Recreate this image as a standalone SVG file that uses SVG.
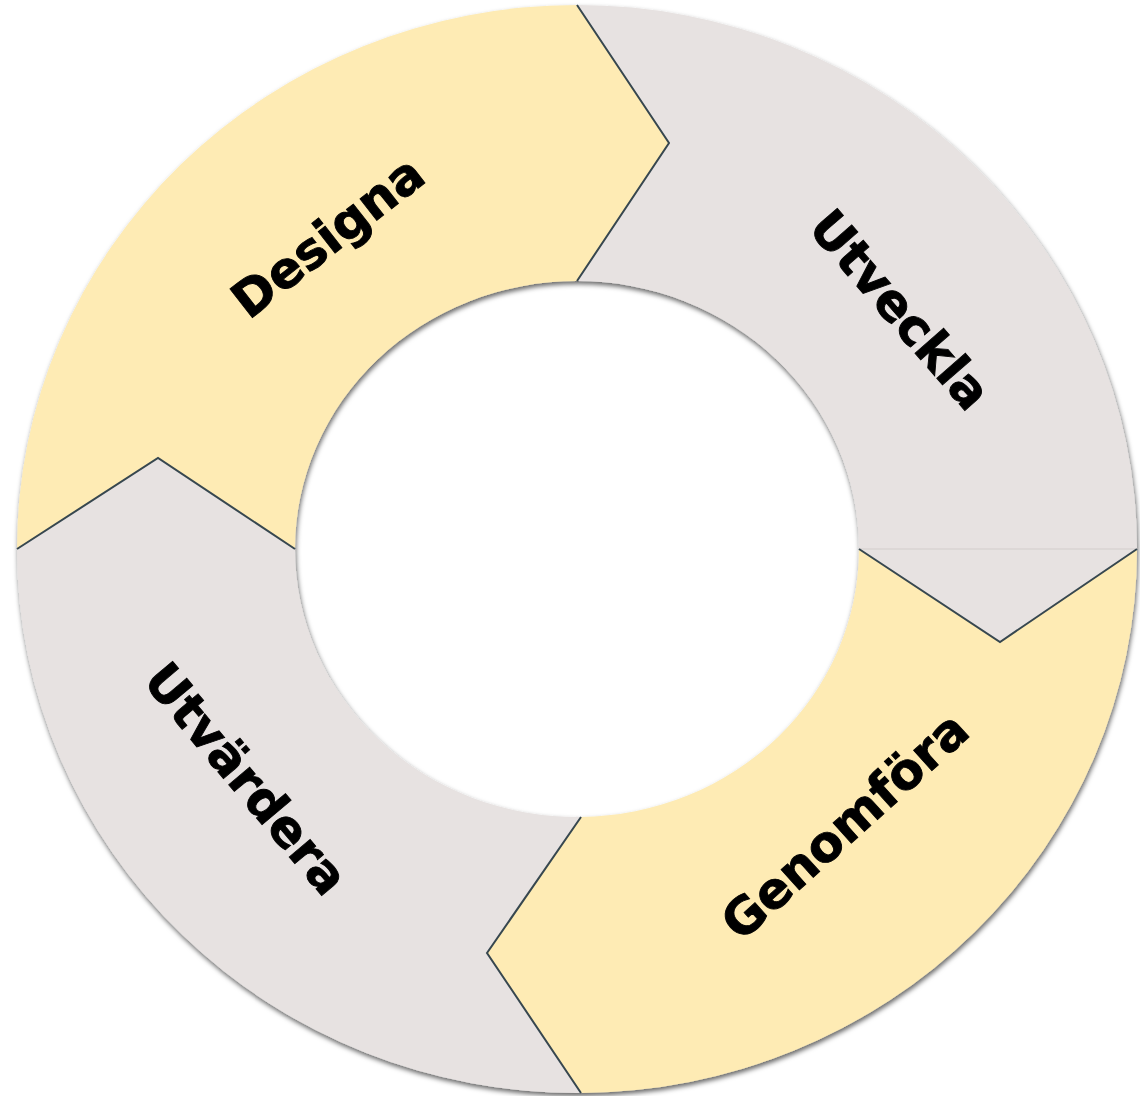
<svg xmlns="http://www.w3.org/2000/svg" width="1140" height="1096" viewBox="0 0 1140 1096">
  <style>
    .yellow { fill: #FEEBB4; }
    .gray { fill: #E7E2E1; }
    .divider { fill: none; stroke: #37474F; stroke-width: 2; stroke-linejoin: miter; }
    .seam { fill: none; stroke: #D2CDCB; stroke-width: 1; }
    .label { font-family: "DejaVu Sans", Verdana, sans-serif; font-weight: bold; font-size: 50px; fill: #000; stroke: #000; stroke-width: 0.9; text-anchor: middle; dominant-baseline: central; }
  </style>
  <defs>
    <filter id="shadow" x="-10%" y="-10%" width="120%" height="120%">
      <feDropShadow dx="1" dy="3" stdDeviation="2.5" flood-color="#000" flood-opacity="0.6"/>
    </filter>
  </defs>
  <rect width="1140" height="1096" fill="#FFFFFF"/>
  <g filter="url(#shadow)">
    <g id="designa">
      <path class="yellow" d="M17,549 A560,544 0 0 1 577,5 L669,143 L577,281 A282,268 0 0 0 295,549 L158,458 Z"/>
    </g>
    <g id="utveckla">
      <path class="gray" d="M577,5 A560,544 0 0 1 1137,549 L1000,642 L859,549 A282,268 0 0 0 577,281 L669,143 Z"/>
    </g>
    <g id="genomfora">
      <path class="yellow" d="M1137,549 L1000,642 L859,549 A282,268 0 0 1 581,817 L487,953 L581,1093 A560,544 0 0 0 1137,549 Z"/>
    </g>
    <g id="utvardera">
      <path class="gray" d="M581,1093 L487,953 L581,817 A282,268 0 0 1 295,549 L158,458 L17,549 A560,544 0 0 0 581,1093 Z"/>
    </g>
  </g>
  <g id="connectors">
    <line class="seam" x1="860" y1="549" x2="1136" y2="549"/>
    <polyline class="divider" points="577,5 669,143 577,281"/>
    <polyline class="divider" points="859,549 1000,642 1137,549"/>
    <polyline class="divider" points="581,817 487,953 581,1093"/>
    <polyline class="divider" points="17,549 158,458 295,549"/>
  </g>
  <g id="labels">
    <text class="label" transform="translate(328,237) rotate(-38)">Designa</text>
    <text class="label" transform="translate(900,310) rotate(49)">Utveckla</text>
    <text class="label" transform="translate(845,826) rotate(-42)">Genomföra</text>
    <text class="label" transform="translate(246,779) rotate(50)">Utvärdera</text>
  </g>
</svg>
